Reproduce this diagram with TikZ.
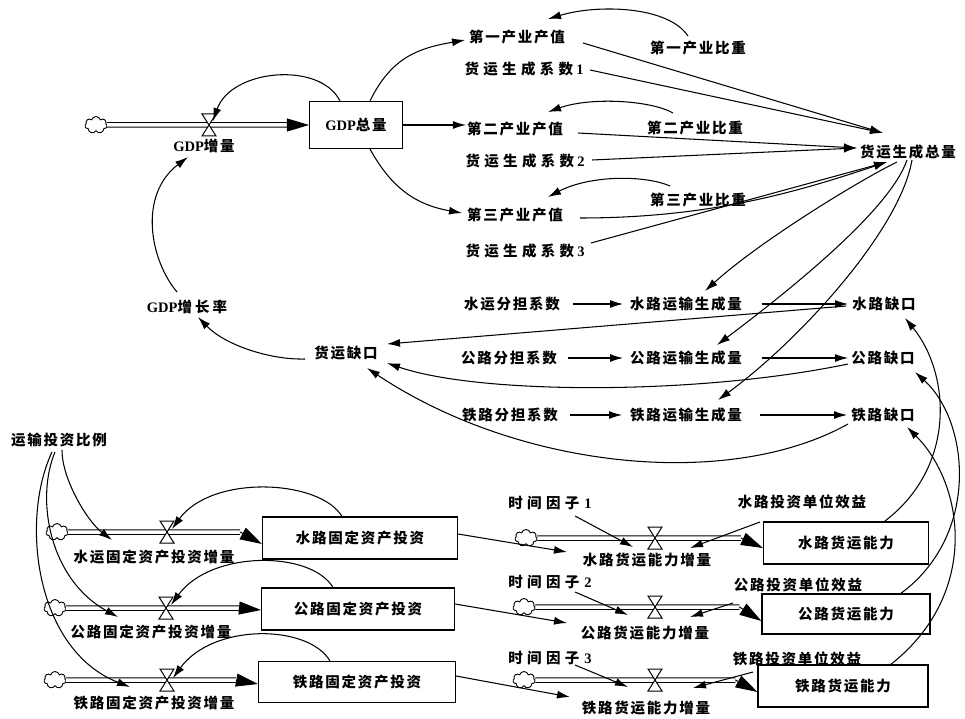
\documentclass[tikz,border=0pt]{standalone}
\usepackage{fontspec}
\setmainfont{Noto Sans CJK SC}
\newfontfamily\latinfont{Liberation Serif}
\usetikzlibrary{arrows.meta,shapes.symbols}
\newcommand\gdptext{{\latinfont\bfseries GDP}}
\newcommand\dig[1]{\hspace{3pt}{\latinfont\bfseries #1}}
\newcommand\labelfont{\fontsize{14.5}{17}\selectfont\bfseries\addfontfeature{LetterSpace=12}}
\newcommand\widefont{\fontsize{14.5}{17}\selectfont\bfseries\addfontfeature{LetterSpace=30}}

\begin{document}
\begin{tikzpicture}[x=1pt,y=-1pt,
  lbl/.style={font=\labelfont, inner sep=1pt},
  wlbl/.style={font=\widefont, inner sep=1pt},
  stock/.style={draw, line width=1.1pt, fill=white, font=\labelfont, inner sep=0pt},
  src/.style={cloud, cloud puffs=7, aspect=1.3, draw, line width=0.9pt, fill=white,
    minimum width=22pt, minimum height=17pt, inner sep=0pt},
  link/.style={line width=1.05pt, -{Latex[length=13pt,width=8pt]}},
  pipe/.style={line width=1pt, double, double distance=3.5pt},
  pipetip/.style={line width=1pt, -{Triangle[length=22pt,width=13pt]}},
  valve/.pic={\draw[line width=1pt, fill=white]
     (-7,-11) -- (7,-11) -- (-7,11) -- (7,11) -- cycle;}
]
\useasboundingbox (0,0) rectangle (965,719);

% ---------- GDP stock and flow ----------
\node[src] (cl0) at (96,125) {};
\node[stock, minimum width=93pt, minimum height=47pt] (gdp) at (356,125) {\gdptext 总量};
\coordinate (v0) at (209,125);
\coordinate (t0) at ([xshift=-22]gdp.west);
\draw[pipe] (cl0.east) -- (t0);
\draw[pipetip] (t0) -- (gdp.west);
\pic at (v0) {valve};
\node[lbl] (r0) at (204,146) {\gdptext 增量};

% ---------- industry output and freight generation ----------
\node[lbl]  (p1) at (517,37)  {第一产业产值};
\node[wlbl] (k1) at (524,69)  {货运生成系数\dig{1}};
\node[lbl]  (p2) at (515,129) {第二产业产值};
\node[wlbl] (k2) at (525,161) {货运生成系数\dig{2}};
\node[lbl]  (p3) at (515,215) {第三产业产值};
\node[wlbl] (k3) at (525,251) {货运生成系数\dig{3}};
\node[lbl]  (w1) at (698,48)  {第一产业比重};
\node[lbl]  (w2) at (695,128) {第二产业比重};
\node[lbl]  (w3) at (698,200) {第三产业比重};
\node[lbl]  (tot) at (908,152) {货运生成总量};

% ---------- freight gap ----------
\node[lbl] (rate) at (187,307) {\gdptext 增\hspace{3pt}长\hspace{3pt}率};
\node[lbl] (gap) at (346,353) {货运缺口};
\node[lbl] (sh1) at (512,304) {水运分担系数};
\node[lbl] (g1)  at (686,304) {水路运输生成量};
\node[lbl] (q1)  at (884,304) {水路缺口};
\node[lbl] (sh2) at (509,358) {公路分担系数};
\node[lbl] (g2)  at (686,358) {公路运输生成量};
\node[lbl] (q2)  at (883,358) {公路缺口};
\node[lbl] (sh3) at (510,415) {铁路分担系数};
\node[lbl] (g3)  at (686,415) {铁路运输生成量};
\node[lbl] (q3)  at (883,415) {铁路缺口};

% ---------- fixed asset investment ----------
\node[lbl] (ratio) at (59,440) {运输投资比例};

\node[src] (cl1) at (57,532) {};
\node[stock, minimum width=195pt, minimum height=42pt] (s1) at (360,538) {水路固定资产投资};
\coordinate (v1) at (167,532);
\coordinate (t1) at ([shift={(-22,-6)}]s1.west);
\draw[pipe] (cl1.east) -- (t1);
\draw[pipetip] (t1) -- ([yshift=-6]s1.west);
\pic at (v1) {valve};
\node[lbl] (r1) at (154,557) {水运固定资产投资增量};

\node[src] (cl2) at (55,608) {};
\node[stock, minimum width=193pt, minimum height=42pt] (s2) at (358,609) {公路固定资产投资};
\coordinate (v2) at (166,608);
\coordinate (t2) at ([shift={(-22,-1)}]s2.west);
\draw[pipe] (cl2.east) -- (t2);
\draw[pipetip] (t2) -- ([yshift=-1]s2.west);
\pic at (v2) {valve};
\node[lbl] (r2) at (151,632) {公路固定资产投资增量};

\node[src] (cl3) at (55,680) {};
\node[stock, minimum width=197pt, minimum height=41pt] (s3) at (357,682) {铁路固定资产投资};
\coordinate (v3) at (167,680);
\coordinate (t3) at ([shift={(-22,-2)}]s3.west);
\draw[pipe] (cl3.east) -- (t3);
\draw[pipetip] (t3) -- ([yshift=-2]s3.west);
\pic at (v3) {valve};
\node[lbl] (r3) at (154,703) {铁路固定资产投资增量};

% ---------- freight capacity ----------
\node[src] (cl4) at (526,538) {};
\node[stock, minimum width=165pt, minimum height=42pt] (c1) at (846,543) {水路货运能力};
\coordinate (v4) at (655,538);
\coordinate (t4) at ([shift={(-22,-5)}]c1.west);
\draw[pipe] (cl4.east) -- (t4);
\draw[pipetip] (t4) -- ([yshift=-5]c1.west);
\pic at (v4) {valve};
\node[lbl] (fr1) at (647,560) {水路货运能力增量};
\node[wlbl] (tf1) at (550,503) {时间因子\hspace{2pt}\dig{1}};
\node[lbl] (e1) at (802,502) {水路投资单位效益};

\node[src] (cl5) at (524,607) {};
\node[stock, minimum width=168pt, minimum height=40pt] (c2) at (846,614) {公路货运能力};
\coordinate (v5) at (655,607);
\coordinate (t5) at ([shift={(-22,-7)}]c2.west);
\draw[pipe] (cl5.east) -- (t5);
\draw[pipetip] (t5) -- ([yshift=-7]c2.west);
\pic at (v5) {valve};
\node[lbl] (fr2) at (645,633) {公路货运能力增量};
\node[wlbl] (tf2) at (550,582) {时间因子\hspace{2pt}\dig{2}};
\node[lbl] (e2) at (798,585) {公路投资单位效益};

\node[src] (cl6) at (524,680) {};
\node[stock, minimum width=170pt, minimum height=42pt] (c3) at (843,686) {铁路货运能力};
\coordinate (v6) at (655,680);
\coordinate (t6) at ([shift={(-22,-6)}]c3.west);
\draw[pipe] (cl6.east) -- (t6);
\draw[pipetip] (t6) -- ([yshift=-6]c3.west);
\pic at (v6) {valve};
\node[lbl] (fr3) at (646,708) {铁路货运能力增量};
\node[wlbl] (tf3) at (550,658) {时间因子\hspace{2pt}\dig{3}};
\node[lbl] (e3) at (797,659) {铁路投资单位效益};

% ---------- information links: GDP sector ----------
\draw[link] ([xshift=-16]gdp.north) .. controls +(-20,-40) and +(18,-52) .. ([shift={(4,-4)}]v0);
\draw[link] ([xshift=14]gdp.north) .. controls +(22,-45) and +(-45,8) .. ([shift={(-52,3)}]p1.center);
\draw[link] (gdp.east) -- (p2.west |- gdp.east);
\draw[link] ([xshift=14]gdp.south) .. controls +(22,40) and +(-45,-8) .. ([shift={(-53,-2)}]p3.center);

\draw[link] ([shift={(-10,-12)}]w1.center) .. controls +(-20,-30) and +(50,-15) .. ([shift={(31,-18)}]p1.center);
\draw[link] ([shift={(-22,-15)}]w2.center) .. controls +(-23,-13) and +(42,-15) .. ([shift={(33,-17)}]p2.center);
\draw[link] ([shift={(-28,-14)}]w3.center) .. controls +(-25,-11) and +(42,-22) .. ([shift={(33,-18)}]p3.center);

\draw[link] ([shift={(66,6)}]p1.center) -- ([shift={(-25,-19)}]tot.center);
\draw[link] ([shift={(66,1)}]k1.center) -- ([shift={(-25,-19)}]tot.center);
\draw[link] ([shift={(63,4)}]p2.center) -- ([shift={(-51,-4)}]tot.center);
\draw[link] ([shift={(67,-1)}]k2.center) -- ([shift={(-51,-4)}]tot.center);
\draw[link] ([shift={(65,3)}]p3.center) .. controls +(130,0) and +(-90,30) .. ([shift={(-21,10)}]tot.center);
\draw[link] ([shift={(66,-8)}]k3.center) -- ([shift={(-21,10)}]tot.center);

% ---------- information links: freight split ----------
\draw[link] ([shift={(-11,10)}]tot.center) .. controls +(-37,18) and +(55,-50) .. ([shift={(19,-13)}]g1.center);
\draw[link] ([shift={(-1,8)}]tot.center) .. controls +(-17,50) and +(73,-55) .. ([shift={(31,-13)}]g2.center);
\draw[link] ([shift={(4,8)}]tot.center) .. controls +(-12,70) and +(82,-60) .. ([shift={(32,-15)}]g3.center);

\draw[link] ([xshift=61]sh1.center) -- ([xshift=-63]g1.center);
\draw[link] ([xshift=59]sh2.center) -- ([xshift=-63]g2.center);
\draw[link] ([xshift=60]sh3.center) -- ([xshift=-64]g3.center);
\draw[link] ([xshift=76]g1.center) -- ([xshift=-36]q1.center);
\draw[link] ([xshift=76]g2.center) -- ([xshift=-35]q2.center);
\draw[link] ([xshift=74]g3.center) -- ([xshift=-36]q3.center);

\draw[link] ([shift={(-38,2)}]q1.center) -- ([shift={(41,-9)}]gap.center);
\draw[link] ([shift={(-35,6)}]q2.center) .. controls +(-148,31) and +(93,32) .. ([shift={(41,10)}]gap.center);
\draw[link] ([shift={(-35,9)}]q3.center) .. controls +(-118,66) and +(153,102) .. ([shift={(21,15)}]gap.center);

\draw[link] ([shift={(-41,6)}]gap.center) .. controls +(-35,1) and +(27,28) .. ([shift={(11,10)}]rate.center);
\draw[link] ([shift={(-10,-15)}]rate.center) .. controls +(-27,-32) and +(-50,38) .. ([shift={(-16,11)}]r0.center);

% ---------- information links: investment ----------
\draw[link] ([shift={(3,10)}]ratio.center) .. controls +(0,30) and +(-24,-18) .. ([shift={(-42,-17)}]r1.center);
\draw[link] ([shift={(-4,12)}]ratio.center) .. controls +(-20,48) and +(-68,-37) .. ([shift={(-33,-15)}]r2.center);
\draw[link] ([shift={(-7,12)}]ratio.center) .. controls +(-32,68) and +(-95,-37) .. ([shift={(-24,-16)}]r3.center);

\draw[link] ([xshift=-18]s1.north) .. controls +(-22,-37) and +(40,-55) .. ([shift={(5,-3)}]v1);
\draw[link] ([xshift=-25]s2.north) .. controls +(-22,-37) and +(40,-55) .. ([shift={(5,-3)}]v2);
\draw[link] ([xshift=-27]s3.north) .. controls +(-22,-37) and +(40,-55) .. ([shift={(6,-2)}]v3);

\draw[link] ([yshift=4]s1.east) -- ([shift={(-80,-8)}]fr1.center);
\draw[link] ([yshift=5]s2.east) -- ([shift={(-78,-10)}]fr2.center);
\draw[link] ([yshift=6]s3.east) -- ([shift={(-76,-11)}]fr3.center);

\draw[link] ([shift={(25,13)}]tf1.center) -- ([shift={(-14,-13)}]fr1.center);
\draw[link] ([shift={(25,10)}]tf2.center) -- ([shift={(-17,-18)}]fr2.center);
\draw[link] ([shift={(25,7)}]tf3.center) -- ([shift={(-18,-21)}]fr3.center);

\draw[link] ([shift={(-42,20)}]e1.center) -- ([shift={(43,-12)}]fr1.center);
\draw[link] ([shift={(-65,18)}]e2.center) -- ([shift={(45,-16)}]fr2.center);
\draw[link] ([shift={(-44,13)}]e3.center) -- ([shift={(47,-20)}]fr3.center);

\draw[link] ([shift={(39,-22)}]c1.center) .. controls +(72,-55) and +(45,55) .. ([shift={(21,14)}]q1.center);
\draw[link] ([shift={(54,-20)}]c2.center) .. controls +(80,-58) and +(55,50) .. ([shift={(32,14)}]q2.center);
\draw[link] ([shift={(47,-21)}]c3.center) .. controls +(90,-70) and +(58,58) .. ([shift={(24,12)}]q3.center);
\end{tikzpicture}
\end{document}
